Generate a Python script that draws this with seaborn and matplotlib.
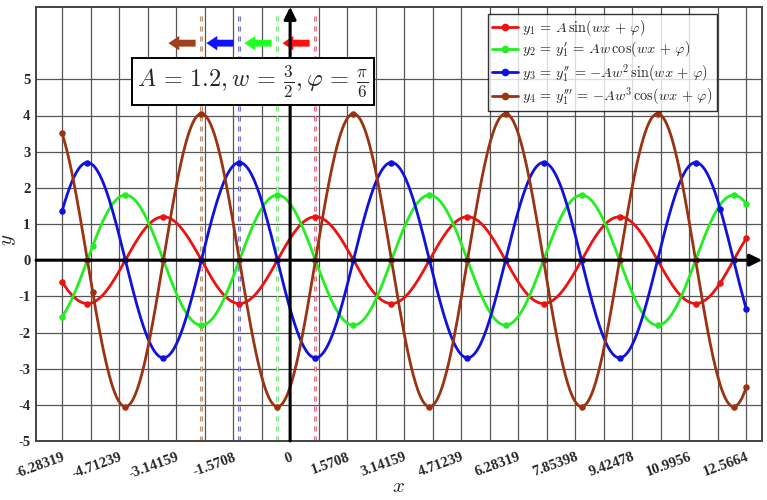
import numpy as np
import matplotlib
matplotlib.use('Agg')
import matplotlib.pyplot as plt
from matplotlib.lines import Line2D
from matplotlib.patches import FancyArrow
import seaborn as sns

# parameters printed on the chart
A = 1.2
W = 1.5
PHI = np.pi / 6

X_START = -2 * np.pi
X_END = 4 * np.pi
# extra marker positions per curve
EXTRA_MARK_X = [[11.85], [-5.44], [11.85], [-5.44]]

NAMES = ['y1', 'y2', 'y3', 'y4']
COLORS = ['#ee1111', '#22ee22', '#1111dd', '#993311']
DASH_COLORS = ['#d84060', '#55dd55', '#4444cc', '#b07040']
ARROW_COLORS = ['#ff1010', '#22ff22', '#1010ff', '#a0401a']
LABELS = [r'$y_1\, =\, A\,\sin(wx\, +\, \varphi)$',
          r"$y_2\, =\, y_1'\, =\, Aw\,\cos(wx\, +\, \varphi)$",
          r"$y_3\, =\, y_1''\, =\, {-}Aw^2\,\sin(wx\, +\, \varphi)$",
          r"$y_4\, =\, y_1'''\, =\, {-}Aw^3\,\cos(wx\, +\, \varphi)$"]
# phase (wx + phi) where each curve peaks
PEAK_PHASE = [np.pi / 2, 0.0, -np.pi / 2, -np.pi]

XTICK_STEPS = list(range(-4, 9))   # multiples of pi/2
YTICKS = list(range(-5, 6))


def curves(x):
    s = np.sin(W * x + PHI)
    c = np.cos(W * x + PHI)
    return [A * s, A * W * c, -A * W**2 * s, -A * W**3 * c]


def marker_x():
    k = np.arange(-10, 30)
    crit = (k * np.pi / 2 - PHI) / W
    crit = crit[(crit >= X_START) & (crit <= X_END)]
    return np.concatenate([[X_START, X_END], crit])


sns.set_style('white')
plt.rcParams['font.family'] = ['Liberation Serif', 'DejaVu Serif']
plt.rcParams['mathtext.fontset'] = 'cm'

fig = plt.figure(figsize=(7.67, 5), dpi=100)
ax = fig.add_axes([36 / 767, 59 / 500, 726 / 767, 434 / 500])
ax.set_xlim(-7, 13)
ax.set_ylim(-5, 7)

xs = np.linspace(X_START, X_END, 1200)
base_mx = marker_x()
for i, color in enumerate(COLORS):
    sns.lineplot(x=xs, y=curves(xs)[i], color=color, lw=2, ax=ax, sort=False,
                 estimator=None, zorder=3)
    mx = np.concatenate([base_mx, EXTRA_MARK_X[i]])
    sns.scatterplot(x=mx, y=curves(mx)[i], color=color, s=22, linewidth=0,
                    ax=ax, zorder=4)

# peak markers: dashed verticals and arrows
for phase, dc, ac in zip(PEAK_PHASE, DASH_COLORS, ARROW_COLORS):
    xd = (phase - PHI) / W
    ax.plot([xd, xd], [-5, 6.8], color=dc, lw=1.8, ls=(0, (2.0, 2.0)), zorder=2)
    ax.plot([xd, xd], [-5, 6.8], color='white', lw=0.5,
            ls=(0, (2.0 * 1.8 / 0.5, 2.0 * 1.8 / 0.5)), zorder=2)
    ax.add_patch(FancyArrow(xd - 0.16, 6.0, -0.75, 0, width=0.19, head_width=0.4,
                            head_length=0.3, length_includes_head=True,
                            color=ac, lw=0, zorder=5))

# coordinate axes with arrows
ax.annotate('', xy=(13, 0), xytext=(-7, 0), zorder=6, annotation_clip=False,
            arrowprops=dict(arrowstyle='-|>', lw=2.2, color='black',
                            mutation_scale=18, shrinkA=0, shrinkB=0))
ax.annotate('', xy=(0, 7), xytext=(0, -5), zorder=6, annotation_clip=False,
            arrowprops=dict(arrowstyle='-|>', lw=2.2, color='black',
                            mutation_scale=18, shrinkA=0, shrinkB=0))

ax.text(-1.02, 4.94,
        r'$A\, =\, 1.2, w\, =\, \frac{3}{2}, \varphi\, =\, \frac{\pi}{6}$',
        ha='center', va='center', fontsize=17.5, zorder=7,
        bbox=dict(boxstyle='square,pad=0.22', fc='white', ec='black', lw=1.4))

xticks = [k * np.pi / 2 for k in XTICK_STEPS]
ax.set_xticks(xticks)
ax.set_xticklabels(['%g' % v for v in xticks], rotation=20, ha='right',
                   rotation_mode='anchor', fontsize=10.5, fontweight='bold')
ax.set_xticks([v + np.pi / 4 for v in xticks[:-1]], minor=True)
ax.set_yticks(YTICKS)
ax.set_yticklabels([str(v) for v in YTICKS], fontsize=10.5, fontweight='bold')
ax.tick_params(which='both', length=0)
ax.tick_params(axis='x', pad=7)
ax.tick_params(axis='y', pad=4)
ax.grid(True, which='both', axis='x', color='#555555', lw=0.9)
ax.grid(True, which='major', axis='y', color='#555555', lw=0.9)
ax.set_axisbelow(True)
for sp in ax.spines.values():
    sp.set_color('#444444')
    sp.set_linewidth(1.4)

ax.set_xlabel(r'$x$', fontsize=15)
ax.set_ylabel(r'$y$', fontsize=15)
ax.xaxis.set_label_coords(0.5, -0.106)
ax.yaxis.set_label_coords(-0.038, 0.463)
ax.xaxis.label.set_va('center')
ax.yaxis.label.set_va('center')

handles = [Line2D([0], [0], color=c, lw=2, marker='o', markersize=4.5)
           for c in COLORS]
leg = ax.legend(handles, LABELS, loc='upper right', bbox_to_anchor=(0.938, 0.984),
                borderaxespad=0, fontsize=10.3, handlelength=1.8,
                handletextpad=0.3, labelspacing=0.12, borderpad=0.3,
                frameon=True, fancybox=False)
leg.get_frame().set_edgecolor('black')
leg.get_frame().set_linewidth(1.0)
leg.set_zorder(8)

fig.savefig('out.png', dpi=100)
